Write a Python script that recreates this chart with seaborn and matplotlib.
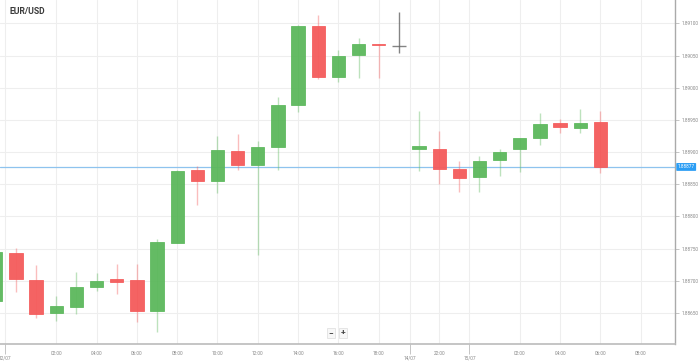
"""
EUR/USD hourly candlestick chart
Run: python plot.py
"""

import numpy as np
import matplotlib
matplotlib.use("Agg")
import matplotlib.pyplot as plt
import matplotlib.transforms as mtransforms
import seaborn as sns

# ── Data ─────────────────────────────────────────────────────
# candle slot index (1 hour per slot, weekend gap removed)
slots = list(range(-1, 30))
opens = [1.88669, 1.88743, 1.88701, 1.88650, 1.88659, 1.88690, 1.88703, 1.88701,
         1.88653, 1.88759, 1.88872, 1.88855, 1.88902, 1.88880, 1.88908, 1.88973,
         1.89096, 1.89017, 1.89051, 1.89068, 1.89065,
         1.88905, 1.88905, 1.88874, 1.88861, 1.88888, 1.88905, 1.88922, 1.88945,
         1.88938, 1.88947]
highs = [1.88749, 1.88751, 1.88725, 1.88676, 1.88714, 1.88712, 1.88726, 1.88726,
         1.88765, 1.88873, 1.88878, 1.88925, 1.88928, 1.88917, 1.88986, 1.89098,
         1.89113, 1.89059, 1.89077, 1.89068, 1.89118,
         1.88964, 1.88933, 1.88886, 1.88894, 1.88905, 1.88922, 1.88961, 1.88952,
         1.88967, 1.88964]
lows = [1.88664, 1.88683, 1.88642, 1.88638, 1.88648, 1.88684, 1.88680, 1.88636,
        1.88620, 1.88759, 1.88818, 1.88837, 1.88872, 1.88740, 1.88872, 1.88962,
        1.89014, 1.89009, 1.89015, 1.89015, 1.89054,
        1.88871, 1.88850, 1.88838, 1.88838, 1.88863, 1.88869, 1.88911, 1.88930,
        1.88930, 1.88868]
closes = [1.88745, 1.88703, 1.88648, 1.88661, 1.88690, 1.88700, 1.88698, 1.88653,
          1.88760, 1.88871, 1.88855, 1.88903, 1.88880, 1.88908, 1.88973, 1.89096,
          1.89017, 1.89050, 1.89068, 1.89067, 1.89065,
          1.88910, 1.88874, 1.88860, 1.88886, 1.88900, 1.88922, 1.88944, 1.88939,
          1.88945, 1.88877]
live_slot = 19          # the grey (unfinished) candle

current_price = 1.88877

hour_ticks = [2, 4, 6, 8, 10, 12, 14, 16, 18, 21, 25, 27, 29, 31]
hour_labels = ["02:00", "04:00", "06:00", "08:00", "10:00", "12:00", "14:00",
               "16:00", "18:00", "22:00", "02:00", "04:00", "06:00", "08:00"]
date_ticks = [-0.55, 19.55, 22.5]
date_labels = ["12/07", "14/07", "15/07"]
price_ticks = [1.88650, 1.88700, 1.88750, 1.88800, 1.88850, 1.88900,
               1.88950, 1.89000, 1.89050, 1.89100]

# ── Style ───────────────────────────────────────────────────
sns.set_theme(style="white")
plt.rcParams["font.family"] = ["Roboto", "DejaVu Sans"]

GREEN = "#5cb85c"
RED = "#f45b5b"
GREY = "#666666"
GRID = "#eeeeee"
TICKFONT = 3.4

fig = plt.figure(figsize=(6.99, 3.62), dpi=100)
ax = fig.add_axes([0.0, 18 / 362, 675 / 699, 1 - 18 / 362])

o = np.array(opens)
c = np.array(closes)
colors = [GREEN if cc >= oo else RED for oo, cc in zip(o, c)]
colors[slots.index(live_slot)] = GREY

# wicks
for s, h, l, col in zip(slots, highs, lows, colors):
    ax.vlines(s, l, h, color=col, lw=1.0, alpha=0.4 if col != GREY else 0.8, zorder=2)

# bodies
bottoms = np.minimum(o, c)
heights = np.maximum(np.abs(c - o), 0.000012)
for s, b, hgt, col in zip(slots, bottoms, heights, colors):
    if col == GREY:
        ax.hlines(b, s - 0.33, s + 0.33, color=col, lw=1.0, alpha=0.8, zorder=3)
    else:
        ax.bar(s, hgt, bottom=b, width=0.66, color=col, edgecolor=col,
               linewidth=0.6, alpha=0.95, zorder=3)

# current price line
ax.axhline(current_price, color="#8ec3ee", lw=0.9, zorder=1)

# ── Axes ───────────────────────────────────────────────────
ax.set_xlim(-0.79, 32.7)
ax.set_ylim(1.886018, 1.891365)

ax.set_xticks(hour_ticks)
ax.set_xticklabels(hour_labels)
ax.set_xticks(date_ticks, minor=True)
ax.set_xticklabels(date_labels, minor=True)
ax.tick_params(axis="x", which="major", length=3, width=0.6, color="#bbbbbb",
               labelsize=TICKFONT, labelcolor="#888888", pad=2)
ax.tick_params(axis="x", which="minor", length=7, width=0.6, color="#bbbbbb",
               labelsize=TICKFONT, labelcolor="#888888", pad=1, bottom=True)
for t in ax.xaxis.get_minorticklines():
    t.set_linestyle((0, (1, 1)))

ax.yaxis.tick_right()
ax.set_yticks(price_ticks)
ax.set_yticklabels([f"{p:.5f}" for p in price_ticks])
ax.tick_params(axis="y", length=3, width=0.6, color="#bbbbbb", labelsize=TICKFONT,
               labelcolor="#888888", pad=1.5, right=True, left=False)

for x in hour_ticks + date_ticks:
    ax.axvline(x, color=GRID, lw=0.8, zorder=0)
for y in price_ticks:
    ax.axhline(y, color=GRID, lw=0.8, zorder=0)

for side in ["top", "left"]:
    ax.spines[side].set_visible(False)
ax.spines["right"].set_color("#aaaaaa")
ax.spines["right"].set_linewidth(1.0)
ax.spines["bottom"].set_color("#bbbbbb")
ax.spines["bottom"].set_linewidth(1.2)

# current price tag on the axis
trans = mtransforms.blended_transform_factory(ax.transAxes, ax.transData)
ax.text(1.004, current_price, f"{current_price:.5f}", transform=trans,
        fontsize=TICKFONT, color="white", va="center", ha="left", clip_on=False,
        bbox=dict(boxstyle="round,pad=0.3,rounding_size=0.15", fc="#2a9df4",
                  ec="none"))

# title and zoom buttons
fig.text(10 / 699, 1 - 12 / 362, "EUR/USD", fontsize=6.2, fontweight="bold",
         color="#3a3a3a", va="center", ha="left")
for xp, lab in [(331, "−"), (343, "+")]:
    fig.text(xp / 699, 1 - 333 / 362, lab, fontsize=6, fontweight="bold",
             color="#444444", ha="center", va="center",
             bbox=dict(boxstyle="square,pad=0.2", fc="#f7f7f7", ec="#dddddd", lw=0.5))

plt.savefig("out.png", dpi=100)
print(" Saved: out.png")
